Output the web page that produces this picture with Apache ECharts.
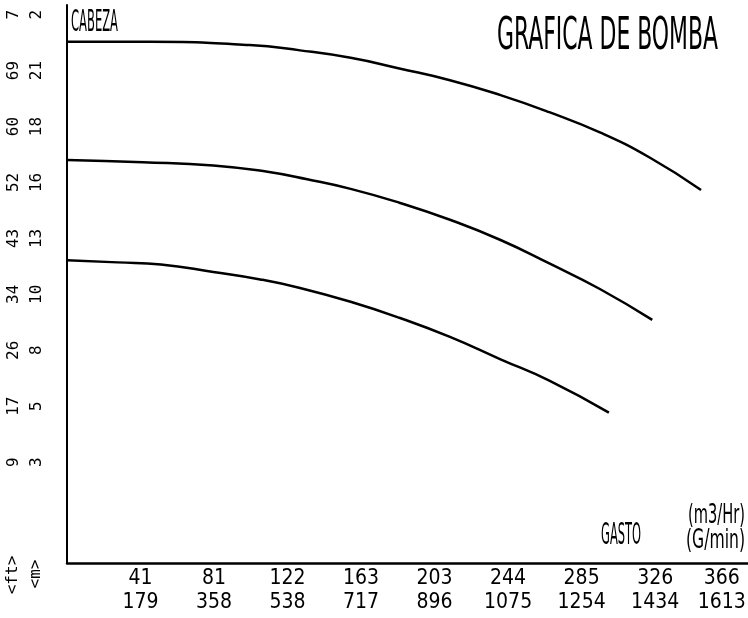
<!DOCTYPE html>
<html>
<head>
<meta charset="utf-8">
<title>Grafica de bomba</title>
<script src="https://cdn.jsdelivr.net/npm/echarts@6/dist/echarts.min.js"></script>
<style>
  html, body { margin: 0; padding: 0; background: #fff; }
  #chart { width: 748px; height: 618px; }
</style>
</head>
<body>
<div id="chart"></div>
<script>
// eje x: gasto en m3/h (arriba) y G/min (abajo)
var gastoM3 = ['41', '81', '122', '163', '203', '244', '285', '326', '366'];
var gastoGpm = ['179', '358', '538', '717', '896', '1075', '1254', '1434', '1613'];
var pasoGasto = 40.7;

// eje y: cabeza en ft y en m (la ultima etiqueta sale cortada arriba)
var cabezaFt = ['9', '17', '26', '34', '43', '52', '60', '69', '7'];
var cabezaM = ['3', '5', '8', '10', '13', '16', '18', '21', '2'];
var pasoCabeza = 2.625;

// curvas [gasto m3/h, cabeza m]
var curvaAlta = [[0, 22.35], [46, 22.35], [101, 22.2], [129, 21.95], [157, 21.6], [184, 21.1], [212, 20.55], [240, 19.85], [267, 19.05], [295, 18.1], [323, 16.9], [351, 15.4]];
var curvaMedia = [[0, 16.8], [42, 16.7], [81, 16.55], [111, 16.25], [133, 15.9], [157, 15.45], [184, 14.8], [212, 14.0], [240, 13.05], [267, 11.95], [295, 10.75], [324, 9.3]];
var curvaBaja = [[0, 12.1], [28, 12.0], [52, 11.9], [81, 11.55], [107, 11.2], [129, 10.8], [157, 10.15], [184, 9.4], [212, 8.5], [240, 7.45], [267, 6.45], [300, 4.95]];

var fuenteAngosta = "'Liberation Sans Narrow', 'DejaVu Sans Condensed', sans-serif";

var ctx = document.createElement('canvas').getContext('2d');
function escalaX(texto, size, ancho) {
  ctx.font = size + 'px ' + fuenteAngosta;
  return ancho / ctx.measureText(texto).width;
}
function textoAngosto(texto, x, y, size, ancho) {
  return {
    type: 'text',
    x: x,
    y: y,
    scaleX: escalaX(texto, size, ancho),
    style: {
      text: texto,
      fontSize: size,
      fontFamily: fuenteAngosta,
      fill: '#000',
      align: 'left',
      verticalAlign: 'middle'
    }
  };
}
function textoVertical(texto, x, y) {
  return {
    type: 'text',
    x: x,
    y: y,
    rotation: Math.PI / 2,
    style: {
      text: texto,
      fontSize: 16,
      fontFamily: 'DejaVu Sans Mono',
      fill: '#000',
      align: 'center',
      verticalAlign: 'middle'
    }
  };
}

var ticksX = gastoM3.map(function (t, i) { return (i + 1) * pasoGasto; });
var ticksY = cabezaM.map(function (t, i) { return (i + 1) * pasoCabeza; });

var chart = echarts.init(document.getElementById('chart'));

var serieBase = {
  type: 'line',
  smooth: true,
  showSymbol: false,
  symbol: 'none',
  lineStyle: { color: '#000', width: 2.5 },
  xAxisIndex: 0,
  yAxisIndex: 0
};

var etiquetaY = {
  customValues: ticksY,
  rotate: 90,
  color: '#000',
  fontFamily: 'DejaVu Sans Mono',
  fontSize: 16
};

var option = {
  backgroundColor: '#fff',
  animation: false,
  grid: {
    left: 67,
    right: 0,
    top: 5,
    bottom: 55,
    containLabel: false,
    outerBoundsMode: 'none'
  },
  xAxis: {
    type: 'value',
    min: 0,
    max: 377,
    axisLine: { onZero: false, lineStyle: { color: '#000', width: 2.5 } },
    axisTick: { show: false },
    splitLine: { show: false },
    axisLabel: {
      customValues: ticksX,
      margin: 4,
      color: '#000',
      fontFamily: fuenteAngosta,
      fontSize: 21,
      lineHeight: 24,
      rich: {
        // la ultima etiqueta se corre a la izquierda para caber en el borde
        ult: { fontFamily: fuenteAngosta, fontSize: 21, lineHeight: 24, color: '#000', padding: [0, 14, 0, 0] }
      },
      formatter: function (v) {
        var i = Math.round(v / pasoGasto) - 1;
        if (i === gastoM3.length - 1) {
          return '{ult|' + gastoM3[i] + '}\n{ult|' + gastoGpm[i] + '}';
        }
        return gastoM3[i] + '\n' + gastoGpm[i];
      }
    }
  },
  yAxis: [
    {
      type: 'value',
      min: -2.11,
      max: 24.08,
      axisLine: { show: true, onZero: false, lineStyle: { color: '#000', width: 2 } },
      axisTick: { show: false },
      splitLine: { show: false },
      axisLabel: Object.assign({
        margin: 22,
        formatter: function (v) {
          return cabezaM[Math.round(v / pasoCabeza) - 1];
        }
      }, etiquetaY)
    },
    {
      type: 'value',
      position: 'left',
      min: -2.11,
      max: 24.08,
      axisLine: { show: false },
      axisTick: { show: false },
      splitLine: { show: false },
      axisLabel: Object.assign({
        margin: 45,
        formatter: function (v) {
          return cabezaFt[Math.round(v / pasoCabeza) - 1];
        }
      }, etiquetaY)
    }
  ],
  graphic: [
    textoAngosto('GRAFICA DE BOMBA', 497, 38, 44, 221),
    textoAngosto('CABEZA', 71, 23, 30, 47),
    textoAngosto('GASTO', 601, 536, 30, 40),
    textoAngosto('(m3/Hr)', 688, 516, 26, 57),
    textoAngosto('(G/min)', 686, 541, 26, 59),
    textoVertical('<ft>', 13, 575),
    textoVertical('<m>', 36, 574)
  ],
  series: [
    Object.assign({ name: 'alta', data: curvaAlta }, serieBase),
    Object.assign({ name: 'media', data: curvaMedia }, serieBase),
    Object.assign({ name: 'baja', data: curvaBaja }, serieBase)
  ]
};

chart.setOption(option);
</script>
</body>
</html>
